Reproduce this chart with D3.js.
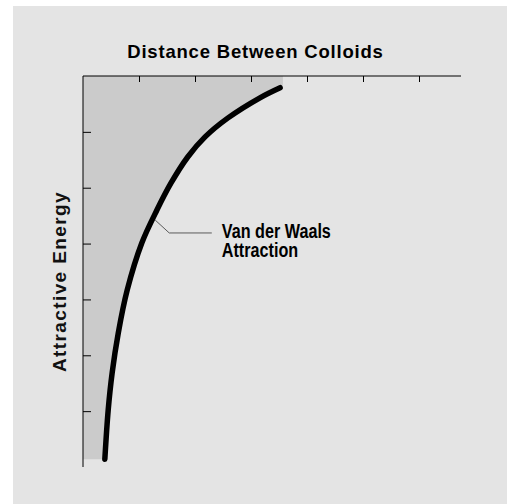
<!DOCTYPE html>
<html>
<head>
<meta charset="utf-8">
<script src="https://cdn.jsdelivr.net/npm/d3@7"></script>
<style>
  html, body { margin: 0; padding: 0; background: #ffffff; }
  svg { display: block; }
</style>
</head>
<body>
<svg id="chart" width="507" height="504"></svg>
<script>
// ---- data (distance units, energy units) ----
const distance = [3.52, 3.16, 2.59, 2.18, 1.87, 1.57, 1.32, 1.05, 0.79, 0.63, 0.52, 0.45, 0.39];
const energy   = [0.21, 0.39, 0.75, 1.09, 1.45, 1.92, 2.40, 2.99, 3.83, 4.60, 5.32, 5.98, 6.86];
const xTicks = [1, 2, 3, 4, 5, 6];
const yTicks = [1, 2, 3, 4, 5, 6];
const titleText = "Distance Between Colloids";
const yLabelText = "Attractive Energy";
const labelLines = ["Van der Waals", "Attraction"];
const labelAnchor = { d: 1.29, e: 2.58 };   // point on curve
const labelElbow  = { d: 1.54, e: 2.81 };
const labelEnd    = { d: 2.30, e: 2.81 };

const svg = d3.select("#chart");
const W = 507, H = 504;

svg.append("rect").attr("x", 13).attr("y", 6)
  .attr("width", W - 13).attr("height", H - 6).attr("fill", "#e4e4e4");

const x = d3.scaleLinear().domain([0, 6.75]).range([83, 461]);
const y = d3.scaleLinear().domain([0, 7]).range([76, 467]);

const pts = distance.map((d, i) => ({ d, e: energy[i] }));

const smooth = d3.line().x(p => x(p.d)).y(p => y(p.e)).curve(d3.curveCatmullRom.alpha(0.5));
const curvePath = smooth(pts);
// filled region: left axis edge + top edge + smooth curve
const fillPath = `M${x(0)},${y(0)}L${x(3.57)},${y(0)}L${x(3.57)},${y(0.17)}L` +
  curvePath.slice(1) + `L${x(0)},${y(energy[energy.length - 1])}Z`;
svg.append("path").attr("d", fillPath).attr("fill", "#cbcbcb");

// axes
const xAxis = d3.axisTop(x).tickValues(xTicks).tickSize(-6).tickFormat("");
const gx = svg.append("g").attr("transform", `translate(0,${y(0)})`).call(xAxis);
const yAxis = d3.axisLeft(y).tickValues(yTicks).tickSize(-8).tickFormat("");
const gy = svg.append("g").attr("transform", `translate(${x(0)},0)`).call(yAxis);
[gx, gy].forEach(g => {
  g.select(".domain").attr("stroke", "#000").attr("stroke-width", 1);
  g.selectAll(".tick line").attr("stroke", "#000").attr("stroke-width", 1);
});
gx.select(".domain").attr("d", `M${x(0)},0H${x(6.75)}`);
gy.select(".domain").attr("d", `M0,${y(0)}V${y(7)}`);

// curve
svg.append("path").attr("d", curvePath)
  .attr("fill", "none").attr("stroke", "#000")
  .attr("stroke-width", 5.5).attr("stroke-linecap", "round");

// leader line
svg.append("path")
  .datum([labelAnchor, labelElbow, labelEnd])
  .attr("d", d3.line().x(p => x(p.d)).y(p => y(p.e)))
  .attr("fill", "none").attr("stroke", "#5a5a5a").attr("stroke-width", 1);

// label (condensed bold)
const lx = x(labelEnd.d) + 10;
const labG = svg.append("g").attr("transform", `translate(${lx},0) scale(0.83,1)`);
const lab = labG.append("text")
  .attr("font-family", "'Liberation Sans', Arial, sans-serif")
  .attr("font-weight", "bold").attr("font-size", 19.5).attr("fill", "#000");
labelLines.forEach((t, i) => {
  lab.append("tspan").attr("x", 0).attr("y", 238 + i * 19.5).text(t);
});

// title
svg.append("text")
  .attr("x", 255.5).attr("y", 58).attr("text-anchor", "middle")
  .attr("font-family", "'Liberation Sans', Arial, sans-serif")
  .attr("font-weight", "bold").attr("font-size", 18.5)
  .attr("letter-spacing", 0.8).attr("fill", "#000")
  .text(titleText);

// y label
svg.append("text")
  .attr("transform", "translate(66,281.5) rotate(-90)")
  .attr("text-anchor", "middle")
  .attr("font-family", "'Liberation Sans', Arial, sans-serif")
  .attr("font-weight", "bold").attr("font-size", 19)
  .attr("letter-spacing", 1.4).attr("fill", "#111")
  .text(yLabelText);
</script>
</body>
</html>
